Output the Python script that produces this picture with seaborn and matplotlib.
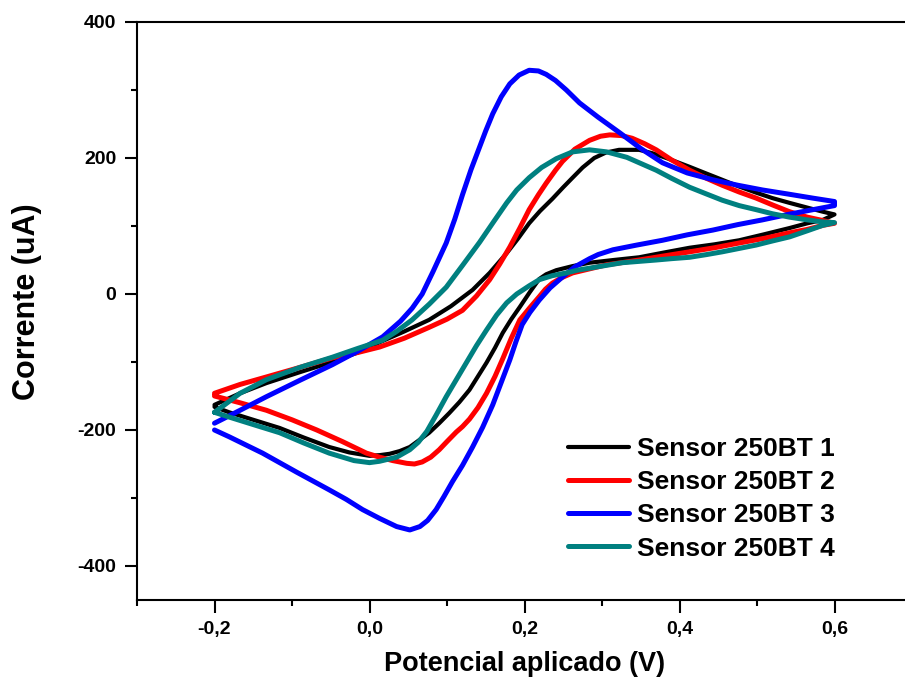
import pandas as pd
import matplotlib
matplotlib.use("Agg")
import matplotlib.pyplot as plt
import seaborn as sns
from matplotlib.ticker import MultipleLocator, FuncFormatter

# Potential (V) and current (uA): forward scan, then reverse scan
s1_v = [-0.2, -0.167, -0.133, -0.09, -0.048, -0.015, 0.013, 0.045, 0.077, 0.105, 0.133, 0.155, 0.177,
        0.192, 0.206, 0.22, 0.236, 0.25, 0.262, 0.275, 0.29, 0.305, 0.322, 0.348, 0.365, 0.383, 0.413,
        0.435, 0.455, 0.477, 0.499, 0.52, 0.542, 0.565, 0.585, 0.6,
        0.585, 0.565, 0.542, 0.51, 0.477, 0.445, 0.413, 0.38, 0.348, 0.315, 0.284, 0.262, 0.241,
        0.228, 0.219, 0.207, 0.194, 0.183, 0.172, 0.162, 0.151, 0.14, 0.129, 0.116, 0.103, 0.09,
        0.077, 0.064, 0.052, 0.039, 0.026, 0.013, 0.0, -0.026, -0.052, -0.085, -0.116, -0.15,
        -0.181, -0.2]
s1_i = [-163, -146, -131, -115, -100, -86, -71, -55, -38, -18, 6, 31, 60,
        82, 104, 122, 140, 157, 171, 186, 200, 208, 212, 212, 207, 200, 187,
        177, 168, 158, 149, 141, 134, 127, 121, 117,
        109, 104, 97, 88, 79, 73, 68, 61, 54, 50, 46, 41, 35,
        29, 22, 3, -19, -37, -57, -79, -101, -121, -141, -159, -175, -190,
        -204, -215, -225, -231, -235, -237, -238, -233, -225, -211, -197, -185,
        -174, -166]

s2_v = [-0.2, -0.167, -0.133, -0.09, -0.048, -0.015, 0.013, 0.045, 0.077, 0.1, 0.12, 0.138, 0.155,
        0.168, 0.181, 0.194, 0.206, 0.218, 0.228, 0.24, 0.249, 0.265, 0.284, 0.298, 0.31, 0.325,
        0.339, 0.355, 0.37, 0.39, 0.413, 0.435, 0.455, 0.477, 0.499, 0.52, 0.542, 0.565, 0.585, 0.6,
        0.585, 0.565, 0.542, 0.51, 0.477, 0.445, 0.413, 0.38, 0.348, 0.325, 0.306, 0.284, 0.262,
        0.248, 0.236, 0.227, 0.219, 0.207, 0.194, 0.183, 0.172, 0.162, 0.151, 0.14, 0.129, 0.12,
        0.112, 0.1, 0.09, 0.079, 0.068, 0.058, 0.048, 0.03, 0.013, -0.004, -0.035, -0.068, -0.1,
        -0.133, -0.167, -0.2]
s2_i = [-146, -133, -122, -108, -94, -86, -78, -65, -49, -37, -24, -3, 21,
        44, 69, 97, 124, 146, 163, 182, 195, 213, 226, 232, 234, 233,
        229, 221, 212, 197, 182, 170, 160, 150, 141, 131, 121, 113, 108, 104,
        101, 95, 90, 82, 75, 68, 62, 56, 50, 46, 43, 37, 31,
        24, 16, 7, -4, -20, -38, -65, -95, -121, -146, -167, -184, -195,
        -203, -217, -229, -240, -247, -250, -249, -245, -240, -234, -217, -200, -185,
        -171, -160, -150]

s3_v = [-0.2, -0.167, -0.133, -0.09, -0.048, -0.015, 0.017, 0.04, 0.055, 0.068, 0.082, 0.099, 0.11,
        0.12, 0.131, 0.142, 0.15, 0.159, 0.17, 0.181, 0.193, 0.206, 0.218, 0.228, 0.24, 0.254,
        0.271, 0.295, 0.323, 0.35, 0.378, 0.41, 0.443, 0.475, 0.507, 0.54, 0.572, 0.6,
        0.6, 0.572, 0.54, 0.507, 0.475, 0.443, 0.41, 0.378, 0.345, 0.314, 0.295, 0.284, 0.265,
        0.249, 0.233, 0.219, 0.207, 0.197, 0.189, 0.181, 0.17, 0.159, 0.146, 0.133, 0.12, 0.107,
        0.096, 0.086, 0.075, 0.065, 0.052, 0.035, 0.013, -0.009, -0.03, -0.052, -0.094, -0.138,
        -0.181, -0.2]
s3_i = [-190, -171, -151, -127, -104, -84, -63, -40, -21, 0, 33, 75, 110,
        146, 183, 216, 240, 265, 290, 309, 322, 329, 328, 323, 314, 300,
        281, 260, 237, 214, 193, 178, 168, 160, 153, 147, 141, 136,
        130, 124, 117, 109, 102, 94, 87, 79, 72, 65, 58, 52, 40,
        25, 9, -9, -27, -45, -70, -97, -130, -163, -196, -225, -252, -276,
        -298, -317, -333, -342, -347, -342, -330, -317, -302, -288, -262, -234,
        -210, -200]

s4_v = [-0.2, -0.167, -0.133, -0.09, -0.048, -0.015, 0.017, 0.035, 0.055, 0.077, 0.099, 0.12, 0.142,
        0.16, 0.177, 0.19, 0.206, 0.222, 0.241, 0.262, 0.284, 0.306, 0.332, 0.35, 0.37, 0.39,
        0.413, 0.435, 0.455, 0.477, 0.499, 0.52, 0.542, 0.565, 0.585, 0.6,
        0.585, 0.565, 0.542, 0.52, 0.499, 0.477, 0.455, 0.435, 0.413, 0.39, 0.37, 0.348, 0.326,
        0.305, 0.284, 0.268, 0.254, 0.236, 0.219, 0.206, 0.19, 0.177, 0.164, 0.151, 0.138, 0.125,
        0.112, 0.099, 0.086, 0.074, 0.063, 0.052, 0.035, 0.013, 0.0, -0.02, -0.052, -0.085, -0.116,
        -0.15, -0.181, -0.2]
s4_i = [-174, -146, -126, -108, -93, -80, -68, -55, -38, -15, 10, 42, 76,
        106, 134, 153, 171, 186, 199, 209, 212, 209, 201, 192, 182, 170,
        157, 147, 138, 130, 124, 118, 113, 109, 106, 105,
        101, 93, 84, 78, 72, 67, 62, 58, 54, 52, 50, 48, 46,
        42, 38, 35, 31, 27, 21, 12, 0, -13, -31, -53, -76, -101,
        -126, -151, -178, -202, -218, -229, -240, -246, -248, -245, -234, -219, -204,
        -192, -181, -174]

labels = ["Sensor 250BT 1", "Sensor 250BT 2", "Sensor 250BT 3", "Sensor 250BT 4"]
colors = ["#000000", "#ff0000", "#0000ff", "#008080"]

sns.set_theme(style="ticks")
plt.rcParams["font.family"] = ["Liberation Sans", "DejaVu Sans"]
plt.rcParams["font.weight"] = "bold"
plt.rcParams["axes.labelweight"] = "bold"
plt.rcParams["text.color"] = "black"
plt.rcParams["axes.labelcolor"] = "black"
plt.rcParams["xtick.color"] = "black"
plt.rcParams["ytick.color"] = "black"

fig = plt.figure(figsize=(9.05, 6.85), dpi=100)
ax = fig.add_axes([137 / 905, 1 - 600 / 685, 775 / 905, 578 / 685])

curves = [(s1_v, s1_i), (s2_v, s2_i), (s3_v, s3_i), (s4_v, s4_i)]
widths = [3.0, 3.6, 3.6, 3.6]
for (v, i), lab, col, lw in zip(curves, labels, colors, widths):
    df = pd.DataFrame({"v": v, "i": i})
    sns.lineplot(data=df, x="v", y="i", sort=False, estimator=None, color=col,
                 linewidth=lw, label=lab, ax=ax)
for line in ax.get_lines():
    line.set_solid_joinstyle("round")
    line.set_solid_capstyle("round")

ax.set_xlim(-0.3, 0.7)
ax.set_ylim(-450, 400)
ax.xaxis.set_major_locator(MultipleLocator(0.2))
ax.xaxis.set_minor_locator(MultipleLocator(0.1))
ax.yaxis.set_major_locator(MultipleLocator(200))
ax.yaxis.set_minor_locator(MultipleLocator(100))
ax.xaxis.set_major_formatter(FuncFormatter(lambda x, p: f"{x:.1f}".replace(".", ",").replace("-0,0", "0,0")))
ax.yaxis.set_major_formatter(FuncFormatter(lambda y, p: f"{y:.0f}"))

ax.tick_params(which="major", direction="out", length=9, width=1.5, labelsize=14, pad=6,
               top=False, right=False)
ax.tick_params(which="minor", direction="out", length=4.5, width=1.5, top=False, right=False)
for lab in ax.get_xticklabels() + ax.get_yticklabels():
    lab.set_fontweight("bold")
for sp in ax.spines.values():
    sp.set_linewidth(1.5)
    sp.set_color("black")

ax.set_xlabel("Potencial aplicado (V)", fontsize=19.5, fontweight="bold")
ax.set_ylabel("Corrente (uA)", fontsize=22, fontweight="bold")
ax.xaxis.set_label_coords(0.5, -0.088)
ax.yaxis.set_label_coords(-0.122, 0.516)

ax.legend(loc="upper left", bbox_to_anchor=(568 / 905, 1 - 437 / 685),
          bbox_transform=fig.transFigure, frameon=False, handlelength=2.3,
          handletextpad=0.3, labelspacing=0.35, borderpad=0, borderaxespad=0,
          prop={"weight": "bold", "size": 19})

fig.savefig("out.png", dpi=100)
